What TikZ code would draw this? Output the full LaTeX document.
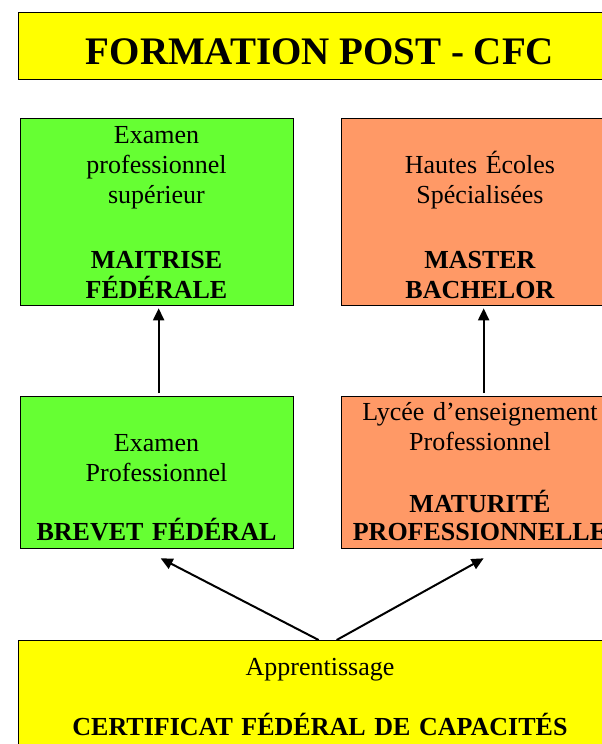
\documentclass[tikz,border=0pt]{standalone}
\usepackage{fontspec}
\setmainfont{Liberation Serif}
\usetikzlibrary{arrows.meta}
\definecolor{cyellow}{HTML}{FFFF00}
\definecolor{cgreen}{HTML}{66FF33}
\definecolor{corange}{HTML}{FF9966}
\tikzset{
  boxbase/.style={draw=black, line width=1.3pt, rectangle, inner sep=0pt, anchor=north west},
  greenbox/.style={boxbase, fill=cgreen},
  orangebox/.style={boxbase, fill=corange},
  yellowbox/.style={boxbase, fill=cyellow},
  bodytext/.style={inner sep=0pt, anchor=base, text width=600pt, align=center, font=\fontsize{26}{30}\selectfont},
  titletext/.style={inner sep=0pt, anchor=base, font=\fontsize{39}{44}\selectfont\bfseries},
  arr/.style={line width=2pt, -{Triangle[length=12pt,width=11pt]}}
}
\begin{document}
\begin{tikzpicture}[x=1pt,y=-1pt]
\useasboundingbox (0,0) rectangle (602,744);
\clip (0,0) rectangle (602,744);
\fill[white] (0,0) rectangle (602,744);
% boxes
\node[yellowbox, minimum width=602pt, minimum height=67pt] (bTitle) at (18,12) {};
\node[greenbox, minimum width=273pt, minimum height=187pt] (bMaitrise) at (20,118) {};
\node[orangebox, minimum width=279pt, minimum height=187pt] (bHES) at (341,118) {};
\node[greenbox, minimum width=273pt, minimum height=152pt] (bBrevet) at (20,396) {};
\node[orangebox, minimum width=279pt, minimum height=152pt] (bMatu) at (341,396) {};
\node[yellowbox, minimum width=602pt, minimum height=130pt] (bCFC) at (18,640) {};
% texts
\node[titletext] (tTitle) at (320,64) {FORMATION POST - CFC};
\node[bodytext] (tMaitrise) at (156.5,143) {Examen\\professionnel\\supérieur\\[35pt]\textbf{MAITRISE}\\\textbf{FÉDÉRALE}};
\node[bodytext] (tHES) at (480,173) {Hautes Écoles\\Spécialisées\\[35pt]\textbf{MASTER}\\\textbf{BACHELOR}};
\node[bodytext] (tBrevet) at (156.5,451) {Examen\\Professionnel\\[29pt]\textbf{BREVET FÉDÉRAL}};
\node[bodytext] (tMatu) at (480,420) {Lycée d’enseignement\\Professionnel\\[32pt]\textbf{MATURITÉ}\\[-2pt]\textbf{PROFESSIONNELLE}};
\node[bodytext] (tCFC) at (320,675) {Apprentissage\\[30pt]\textbf{CERTIFICAT FÉDÉRAL DE CAPACITÉS}};
% arrows
\draw[arr] ([shift={(1.5,-3)}]bBrevet.north) -- ([shift={(1.5,2)}]bMaitrise.south);
\draw[arr] ([shift={(2.5,-3)}]bMatu.north) -- ([shift={(2.5,2)}]bHES.south);
\draw[arr] ([shift={(-1,0)}]bCFC.north) -- ([shift={(3.5,9)}]bBrevet.south);
\draw[arr] ([shift={(17,0)}]bCFC.north) -- ([shift={(2.5,9)}]bMatu.south);
\end{tikzpicture}
\end{document}
